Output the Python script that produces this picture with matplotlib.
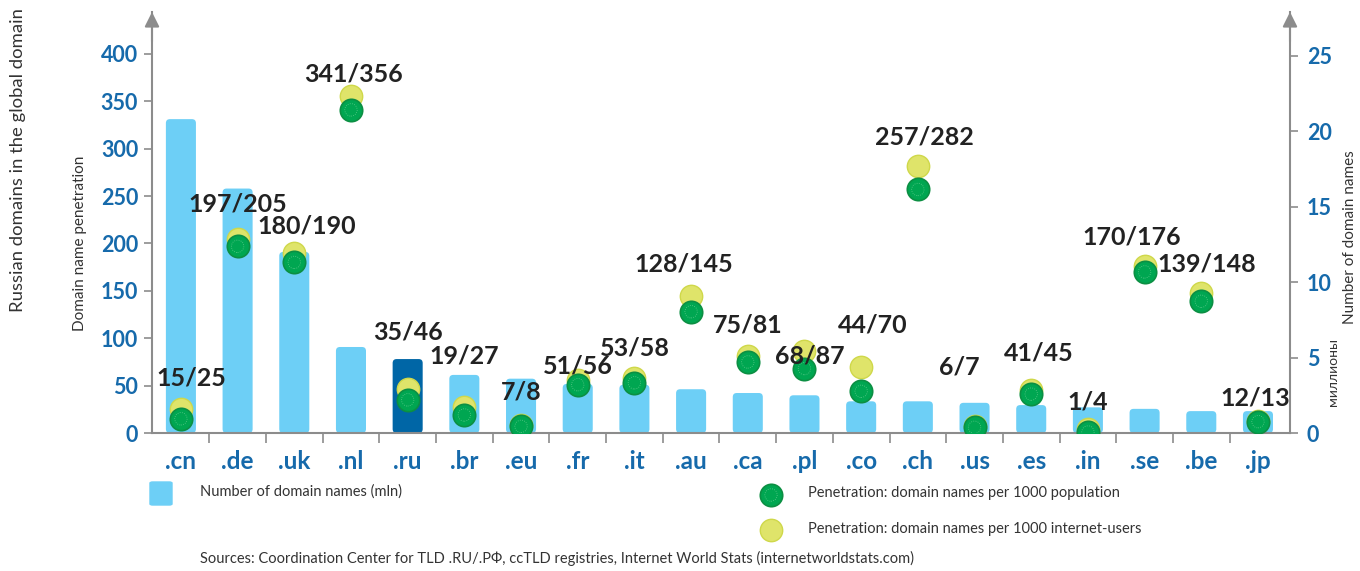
import numpy as np
import matplotlib
matplotlib.use('Agg')
import matplotlib.pyplot as plt
from matplotlib.patches import FancyBboxPatch

plt.rcParams['font.family'] = ['Lato', 'DejaVu Sans']

# Data
zones = ['.cn', '.de', '.uk', '.nl', '.ru', '.br', '.eu', '.fr', '.it', '.au',
         '.ca', '.pl', '.co', '.ch', '.us', '.es', '.in', '.se', '.be', '.jp']
domains_mln = [20.8, 16.2, 12.0, 5.7, 4.9, 3.85, 3.6, 3.25, 3.2, 2.9,
               2.65, 2.5, 2.1, 2.1, 2.0, 1.85, 1.7, 1.6, 1.45, 1.45]
per_population = [15, 197, 180, 341, 35, 19, 7, 51, 53, 128,
                  75, 68, 44, 257, 6, 41, 1, 170, 139, 12]
per_users = [25, 205, 190, 356, 46, 27, 8, 56, 58, 145,
             81, 87, 70, 282, 7, 45, 4, 176, 148, 13]

# label placement (pixels relative to category / yellow marker)
label_dx = [10, 0, 12, 3, 0, 0, 0, 0, 0, -7, 0, 5, 12, 7, -15, 8, 0, -13, 5, -3]
label_dy = [31, 35, 27, 22, 57, 51, 33, 14, 30, 32, 31, -5, 42, 29, 59, 37, 27, 29, 29, 23]

light_blue = '#6dcff6'
dark_blue = '#0066a6'
green = '#00a651'
green_edge = '#0c8f43'
yellow = '#dfe46a'
yellow_edge = '#cfd84a'
axis_gray = '#8c8c8c'
tick_blue = '#166aab'

fig = plt.figure(figsize=(13.6, 5.71), dpi=100)
ax = fig.add_axes([152/1360, 138/571, (1290-152)/1360, (433-12)/571])
ax2 = ax.twinx()

x = np.arange(len(zones))
colors = [dark_blue if z == '.ru' else light_blue for z in zones]
bars = ax2.bar(x, domains_mln, width=0.53, color=colors, zorder=1)
# rounded corners on the bars
for b in bars:
    b.set_visible(False)
    ax2.add_patch(FancyBboxPatch((b.get_x(), b.get_y()), b.get_width(), b.get_height(),
                                 boxstyle='round,pad=0,rounding_size=0.07',
                                 mutation_aspect=3.76, facecolor=b.get_facecolor(),
                                 edgecolor='none', zorder=1))

ax.set_zorder(ax2.get_zorder() + 1)
ax.patch.set_visible(False)

ax.scatter(x, per_users, s=260, color=yellow, edgecolors=yellow_edge, linewidths=1, zorder=3)
ax.scatter(x, per_population, s=260, color=green, edgecolors=green_edge, linewidths=1.2, zorder=4)
ax.scatter(x, per_population, s=80, facecolors='none', edgecolors='#5cc98a',
           linewidths=0.6, linestyle=':', zorder=5)

for i in range(len(zones)):
    ax.annotate(f'{per_population[i]}/{per_users[i]}', (x[i], per_users[i]),
                xytext=(label_dx[i], label_dy[i]), textcoords='offset pixels',
                ha='center', va='center', fontsize=18, fontweight='bold',
                color='#222222', zorder=6)

ax.set_xlim(-0.51, 19.565)
ax.set_ylim(0, 444.3)
ax2.set_ylim(0, 27.9)
ax.set_yticks(range(0, 401, 50))
ax2.set_yticks(range(0, 26, 5))

for a in (ax, ax2):
    for s in a.spines.values():
        s.set_visible(False)
ax.spines['left'].set_visible(True)
ax.spines['bottom'].set_visible(True)
ax2.spines['right'].set_visible(True)
for s in (ax.spines['left'], ax.spines['bottom'], ax2.spines['right']):
    s.set_color(axis_gray)
    s.set_linewidth(1.5)

ax.tick_params(axis='y', colors=axis_gray, length=6, width=1.2, pad=4,
               labelcolor=tick_blue, labelsize=15.5)
ax2.tick_params(axis='y', colors=axis_gray, length=6, width=1.2, pad=6,
                labelcolor=tick_blue, labelsize=15.5)
for lab in ax.get_yticklabels() + ax2.get_yticklabels():
    lab.set_fontweight('bold')

ax.set_xticks(x)
ax.set_xticklabels(zones, fontsize=17.5, fontweight='bold', color=tick_blue)
ax.tick_params(axis='x', which='major', length=0, pad=12)
ax.set_xticks(np.arange(0.5, 19, 1), minor=True)
ax.tick_params(axis='x', which='minor', length=7, width=1.2, colors=axis_gray)

# arrows on top of the vertical axes
for xa in (0, 1):
    ax.annotate('', xy=(xa, 1.0), xytext=(xa, 0.93), xycoords='axes fraction',
                arrowprops=dict(arrowstyle='-|>', color=axis_gray, lw=1.5,
                                mutation_scale=22, shrinkA=0, shrinkB=0))

# axis titles
fig.text(18/1360, 1 - 312/571, 'Russian domains in the global domain', rotation=90,
         ha='center', va='bottom', fontsize=13.3, color='#333333')
fig.text(80/1360, 1 - 243/571, 'Domain name penetration', rotation=90,
         ha='center', va='center', fontsize=11, color='#333333')
fig.text(1350/1360, 1 - 237/571, 'Number of domain names', rotation=90,
         ha='center', va='center', fontsize=11, color='#333333')
fig.text(1333/1360, 1 - 372/571, 'миллионы', rotation=90,
         ha='center', va='center', fontsize=10, color='#333333')

# legend
fig.patches.append(FancyBboxPatch((150/1360, 1 - 505/571), 22/1360, 23/571,
                                  boxstyle='round,pad=0,rounding_size=0.002',
                                  transform=fig.transFigure, color=light_blue))
fig.text(200/1360, 1 - 492/571, 'Number of domain names (mln)', va='center',
         fontsize=10.5, color='#333333')
lx = fig.add_axes([0, 0, 1, 1], zorder=-1)
lx.set_xlim(0, 1360)
lx.set_ylim(571, 0)
lx.axis('off')
lx.scatter([771], [495], s=260, color=green, edgecolors=green_edge, linewidths=1.2)
lx.scatter([771], [495], s=80, facecolors='none', edgecolors='#5cc98a', linewidths=0.6, linestyle=':')
lx.scatter([771], [530], s=260, color=yellow, edgecolors=yellow_edge, linewidths=1)
fig.text(808/1360, 1 - 493/571, 'Penetration: domain names per 1000 population', va='center',
         fontsize=10.5, color='#333333')
fig.text(808/1360, 1 - 529/571, 'Penetration: domain names per 1000 internet-users', va='center',
         fontsize=10.5, color='#333333')
fig.text(200/1360, 1 - 558/571,
         'Sources: Coordination Center for TLD .RU/.РФ, ccTLD registries, Internet World Stats (internetworldstats.com)',
         va='center', fontsize=10.5, color='#333333')

fig.savefig('out.png', dpi=100)
